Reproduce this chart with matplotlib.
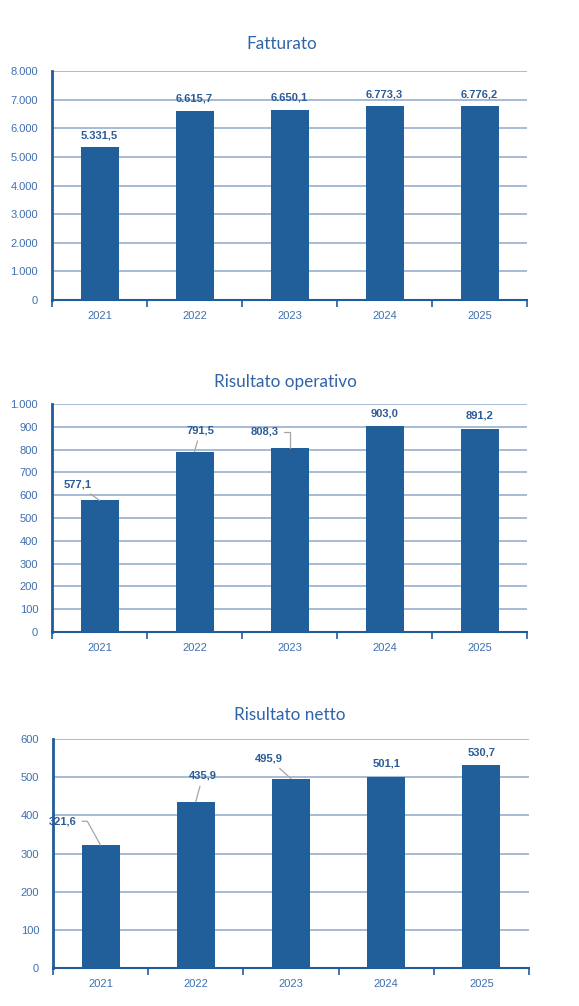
import matplotlib
matplotlib.use("Agg")
import matplotlib.pyplot as plt
from matplotlib.ticker import FuncFormatter, MultipleLocator, FixedLocator

years = ["2021", "2022", "2023", "2024", "2025"]
fatturato = [5331.5, 6615.7, 6650.1, 6773.3, 6776.2]
ris_operativo = [577.1, 791.5, 808.3, 903.0, 891.2]
ris_netto = [321.6, 435.9, 495.9, 501.1, 530.7]

titles = ["Fatturato", "Risultato operativo", "Risultato netto"]
series = [fatturato, ris_operativo, ris_netto]
ymax = [8000, 1000, 600]
ystep = [1000, 100, 100]

# title placement (x in axes fraction, pad in points)
title_x = [0.484, 0.492, 0.497]
title_pad = [15.5, 12.2, 13.7]

# label offsets in pixels (dx, dy) and leader style per label
offsets = [
    [(0, 12), (0, 12), (0, 12), (0, 12), (0, 12)],
    [(-22, 16), (6, 21), (-25, 16), (0, 13), (0, 13)],
    [(-38, 24), (7, 26), (-22, 20), (0, 13), (0, 13)],
]
leaders = [
    [None, None, None, None, None],
    ["arc3,rad=0", "arc3,rad=0", "angle,angleA=0,angleB=90,rad=0", None, None],
    ["angle,angleA=0,angleB=119,rad=0", "arc3,rad=0", "arc3,rad=0", None, None],
]

W, H = 579, 1006
axes_px = [  # left, top, right, bottom in pixels
    (52, 71, 527, 300),
    (52, 404, 527, 632),
    (53, 739, 529, 968),
]

BAR = "#215F9A"
GRID = "#8EA9C9"
AXIS = "#1F5C99"
TICKC = "#3E6FB0"
LABELC = "#2B5C98"
TITLEC = "#2F64A8"

def ita_int(v, pos=None):
    return f"{int(round(v)):,}".replace(",", ".")

def ita_dec(v):
    s = f"{v:,.1f}"
    return s.replace(",", "X").replace(".", ",").replace("X", ".")

fig = plt.figure(figsize=(W / 100, H / 100), dpi=100)
fig.patch.set_facecolor("white")

for k in range(3):
    l, t, r, b = axes_px[k]
    ax = fig.add_axes([l / W, (H - b) / H, (r - l) / W, (b - t) / H])
    x = list(range(len(years)))
    vals = series[k]
    ax.bar(x, vals, width=0.4, color=BAR, zorder=3)
    ax.set_xlim(-0.5, len(years) - 0.5)
    ax.set_ylim(0, ymax[k])
    ax.yaxis.set_major_locator(MultipleLocator(ystep[k]))
    ax.yaxis.set_major_formatter(FuncFormatter(ita_int))
    ax.grid(axis="y", color=GRID, linewidth=1.1, zorder=0)
    ax.set_axisbelow(True)
    for s in ["top", "right"]:
        ax.spines[s].set_visible(False)
    ax.spines["left"].set_color(AXIS)
    ax.spines["left"].set_linewidth(2.0)
    ax.spines["bottom"].set_color(AXIS)
    ax.spines["bottom"].set_linewidth(1.5)
    ax.set_xticks(x)
    ax.set_xticklabels(years)
    ax.xaxis.set_minor_locator(FixedLocator([i - 0.5 for i in range(len(years) + 1)]))
    ax.tick_params(axis="x", which="major", length=0, pad=8, labelsize=8, labelcolor=TICKC)
    ax.tick_params(axis="x", which="minor", length=5, width=1.2, color=AXIS, direction="out")
    ax.tick_params(axis="y", length=0, pad=10, labelsize=8, labelcolor=TICKC)
    for lab in ax.get_xticklabels() + ax.get_yticklabels():
        lab.set_fontfamily("Liberation Sans")
    ax.set_title(titles[k], fontsize=12.3, color=TITLEC, pad=title_pad[k],
                 x=title_x[k], fontfamily="Lato")

    for i, v in enumerate(vals):
        dx, dy = offsets[k][i]
        cs = leaders[k][i]
        kw = {}
        if cs is not None:
            kw["arrowprops"] = dict(arrowstyle="-", color="#A6A6A6", lw=0.9,
                                    connectionstyle=cs, shrinkA=2, shrinkB=0)
        ax.annotate(ita_dec(v), xy=(i, v), xytext=(dx, dy), textcoords="offset pixels",
                    ha="center", va="center", fontsize=8, fontweight="bold",
                    color=LABELC, fontfamily="Liberation Sans", zorder=5, **kw)

fig.savefig("out.png", dpi=100, facecolor="white")
